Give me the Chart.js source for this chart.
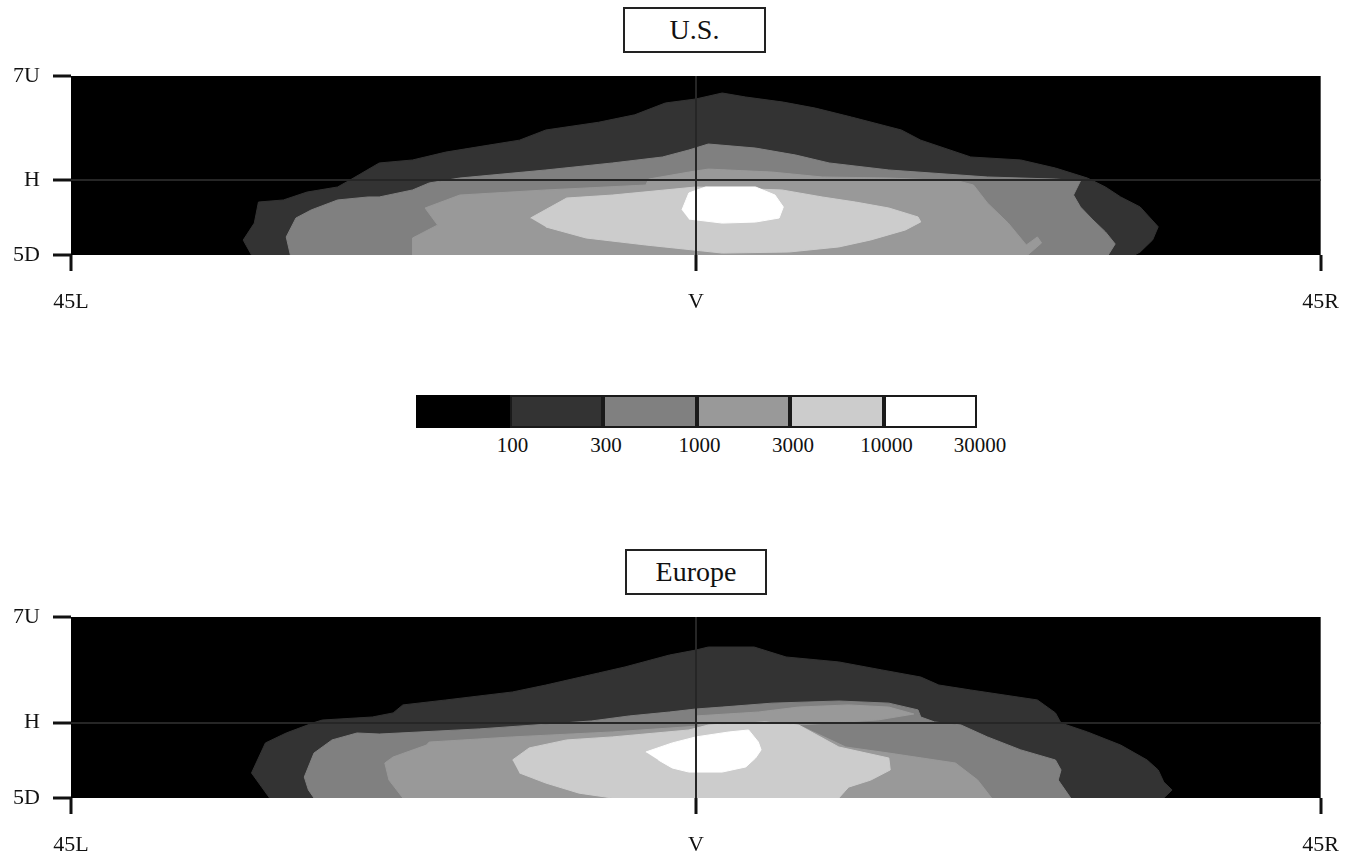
<!DOCTYPE html>
<html>
<head>
<meta charset="utf-8">
<title>U.S. / Europe</title>
<script src="https://cdn.jsdelivr.net/npm/chart.js"></script>
<style>
  body { margin: 0; width: 1357px; height: 857px; background: #fff; overflow: hidden; position: relative;
         font-family: "Liberation Serif", "Times New Roman", serif; color: #111; }
  canvas { position: absolute; left: 0; }
  .title { position: absolute; border: 2px solid #222; box-sizing: border-box; text-align: center;
           font-size: 28px; background: #fff; }
  #legend { position: absolute; left: 416px; top: 395px; display: flex; }
  .swatch { width: 93.5px; height: 33px; box-sizing: border-box; border: 2px solid #1a1a1a; }
  .lab { position: absolute; top: 433px; font-size: 21px; transform: translateX(-50%); }
</style>
</head>
<body>
<div class="title" style="left:623px;top:7px;width:143px;height:46px;line-height:42px">U.S.</div>
<canvas id="usChart" width="1357" height="330" style="top:0"></canvas>
<div id="legend"></div>
<div class="title" style="left:625px;top:549px;width:142px;height:46px;line-height:42px">Europe</div>
<canvas id="euChart" width="1357" height="316" style="top:541px"></canvas>

<script>
// niveles de contorno (grados: x = L/R, y = D/U)
var usLevel1 = [[-32.0,-5],[-32.6,-4.0],[-31.8,-2.86],[-31.5,-1.45],[-29.7,-1.31],[-28.0,-0.78],[-25.8,-0.44],[-24.9,0.03],[-22.8,1.17],[-20.4,1.37],[-18.0,1.9],[-14.9,2.37],[-12.7,2.7],[-10.8,3.38],[-7.0,3.9],[-4.4,4.4],[-2.2,5.19],[0,5.46],[1.9,5.86],[3.6,5.59],[6.3,5.25],[8.6,4.85],[11.2,4.25],[14.8,3.38],[16.2,2.7],[19.8,1.57],[23.4,1.37],[25.9,0.83],[28.2,0.16],[29.5,-0.44],[30.6,-1.11],[32.0,-1.78],[33.3,-3.11],[32.9,-3.99],[32.0,-4.8],[31.6,-5]];
var usLevel2 = [[-29.2,-5],[-29.5,-3.79],[-28.8,-2.52],[-27.7,-1.98],[-25.8,-1.31],[-23.6,-1.11],[-22.8,-1.11],[-20.4,-0.64],[-19.2,-0.17],[-17.0,0.16],[-10.8,0.7],[-6.0,1.17],[-2.4,1.57],[-0.5,2.04],[0.9,2.44],[4.3,2.17],[7.2,1.7],[9.6,1.17],[13.9,0.7],[21.0,0.23],[25.9,0.09],[27.7,-0.04],[27.2,-0.98],[27.7,-1.78],[28.6,-2.65],[29.5,-3.45],[30.2,-4.26],[29.7,-5]];
var usLevel3 = [[-20.4,-5],[-20.4,-3.86],[-18.6,-2.99],[-19.5,-1.85],[-17.0,-0.98],[-10.8,-0.64],[-3.6,-0.31],[-3.4,0.09],[-0.5,0.56],[0.9,0.76],[5.5,0.56],[9.1,0.23],[13.9,0.16],[18.9,-0.04],[20.0,-0.31],[21.0,-1.51],[22.5,-2.86],[23.8,-4.33],[24.6,-3.79],[24.9,-4.19],[23.9,-5]];
var usLevel4 = [[-11.9,-2.52],[-9.3,-1.18],[-6.0,-0.98],[0,-0.44],[6.2,-0.64],[9.1,-1.11],[11.5,-1.45],[13.9,-1.85],[16.0,-2.45],[16.2,-2.78],[15.1,-3.32],[12.6,-3.99],[10.3,-4.46],[6.7,-4.8],[1.9,-4.87],[-3.6,-4.33],[-7.9,-3.86],[-10.8,-3.12]];
var usLevel5 = [[-1.0,-1.98],[-0.5,-0.84],[0.7,-0.44],[4.3,-0.44],[5.7,-0.98],[6.3,-1.78],[6.0,-2.52],[4.3,-2.79],[1.9,-2.86],[-0.5,-2.59]];

var euLevel1 = [[-30.7,-5],[-32.0,-3.34],[-31.0,-1.35],[-29.5,-0.69],[-27.5,0],[-26.9,0.17],[-23.3,0.37],[-21.8,0.64],[-21.1,1.17],[-18.0,1.5],[-13.2,2.03],[-10.8,2.49],[-7.0,3.29],[-5.1,3.69],[-1.9,4.48],[0,4.81],[0.9,5.01],[4.2,5.01],[6.5,4.35],[10.3,4.02],[13.4,3.49],[16.2,3.02],[17.5,2.49],[19.8,2.16],[24.6,1.5],[25.9,0.64],[26.3,-0.03],[28.2,-0.62],[30.6,-1.49],[32.5,-2.48],[33.3,-3.14],[33.7,-3.94],[34.3,-4.47],[33.7,-5]];
var euLevel2 = [[-27.5,-5],[-27.9,-4.47],[-28.2,-3.61],[-27.5,-2.02],[-26.2,-1.15],[-24.4,-0.69],[-22.8,-0.76],[-15.6,-0.42],[-7.5,0.11],[-4.8,0.44],[-1.9,0.7],[0,0.9],[1.9,1.03],[5.5,1.29],[10.3,1.43],[13.9,1.29],[16.0,0.84],[16.2,0.37],[17.2,0.04],[19.1,-0.16],[21.0,-0.95],[23.4,-1.81],[25.9,-2.48],[26.3,-3.14],[26.1,-3.81],[27.0,-5]];
var euLevel3 = [[-21.1,-5],[-22.1,-3.81],[-22.4,-2.68],[-21.8,-2.28],[-19.4,-1.49],[-19.2,-1.29],[-13.2,-0.95],[-6.0,-0.62],[0.2,-0.23],[0,0.44],[4.5,0.7],[7.4,1.03],[11.0,1.17],[13.9,1.03],[15.7,0.57],[13.1,0.17],[7.4,-0.16],[10.8,-1.62],[13.9,-2.02],[18.7,-2.68],[20.3,-3.81],[21.3,-5]];
var euLevel4 = [[-13.2,-2.48],[-12.0,-1.68],[-9.3,-1.15],[-6.0,-0.95],[-0.5,-0.49],[0.9,-0.16],[5.0,0.04],[7.4,-0.16],[10.3,-1.62],[13.9,-2.35],[14.0,-3.14],[12.6,-3.81],[11.0,-4.28],[10.3,-5],[-6.0,-5],[-8.4,-4.68],[-10.8,-4.01],[-12.7,-3.34]];
var euLevel5 = [[-3.6,-1.95],[-1.7,-1.35],[0,-0.95],[2.4,-0.62],[3.8,-0.49],[4.5,-1.29],[4.7,-1.81],[4.3,-2.35],[3.6,-2.94],[1.9,-3.28],[-0.5,-3.28],[-1.7,-3.01],[-2.7,-2.48]];

// escala de colores y etiquetas
var levelColors = ['#000000', '#333333', '#808080', '#999999', '#cccccc', '#ffffff'];
var legendLabels = ['100', '300', '1000', '3000', '10000', '30000'];

// ejes
var xTickValues = [-45, 0, 45];
var xTickLabels = ['45L', 'V', '45R'];
var yTickValues = [-5, 0, 7];
var yTickLabels = ['5D', 'H', '7U'];

// fondo negro del area (nivel < 100)
var plotBackground = {
  id: 'plotBackground',
  beforeDatasetsDraw: function (chart) {
    var a = chart.chartArea, c = chart.ctx;
    c.save();
    c.fillStyle = levelColors[0];
    c.fillRect(a.left, a.top, a.right - a.left, a.bottom - a.top);
    c.restore();
  }
};

var tickFont = { family: 'Liberation Serif', size: 22 };

function lineColor(c) {
  return c.tick && c.tick.value === 0 ? '#262626' : 'rgba(0,0,0,0)';
}

function makePanel(canvasId, levels, xAxisHeight) {
  var datasets = levels.map(function (pts, i) {
    return {
      label: legendLabels[i],
      data: pts.map(function (p) { return { x: p[0], y: p[1] }; }),
      showLine: true,
      fill: 'shape',
      backgroundColor: levelColors[i + 1],
      borderColor: levelColors[i + 1],
      borderWidth: 1,
      pointRadius: 0,
      pointHoverRadius: 0,
      order: 10 - i
    };
  });

  return new Chart(document.getElementById(canvasId), {
    type: 'scatter',
    data: { datasets: datasets },
    options: {
      responsive: false,
      animation: false,
      events: [],
      layout: { padding: { top: 76, right: 32, left: 0, bottom: 0 } },
      plugins: { legend: { display: false }, tooltip: { enabled: false } },
      scales: {
        x: {
          type: 'linear', min: -45, max: 45,
          afterBuildTicks: function (s) { s.ticks = xTickValues.map(function (v) { return { value: v }; }); },
          afterFit: function (s) { s.height = xAxisHeight; },
          ticks: {
            callback: function (v, i) { return xTickLabels[i]; },
            autoSkip: false, maxRotation: 0, padding: 18, color: '#111', font: tickFont
          },
          grid: { z: 1, color: lineColor, lineWidth: 2, tickColor: '#111', tickWidth: 3, tickLength: 16 },
          border: { display: false }
        },
        y: {
          type: 'linear', min: -5, max: 7,
          afterBuildTicks: function (s) { s.ticks = yTickValues.map(function (v) { return { value: v }; }); },
          afterFit: function (s) { s.width = 71; },
          ticks: {
            callback: function (v, i) { return yTickLabels[i]; },
            autoSkip: false, padding: 13, color: '#111', font: tickFont
          },
          grid: { z: 1, color: lineColor, lineWidth: 2, tickColor: '#111', tickWidth: 3, tickLength: 18 },
          border: { display: false }
        }
      }
    },
    plugins: [plotBackground]
  });
}

makePanel('usChart', [usLevel1, usLevel2, usLevel3, usLevel4, usLevel5], 75);
makePanel('euChart', [euLevel1, euLevel2, euLevel3, euLevel4, euLevel5], 59);

// barra de colores
var legend = document.getElementById('legend');
levelColors.forEach(function (col, i) {
  var d = document.createElement('div');
  d.className = 'swatch';
  d.style.background = col;
  if (i === 0) d.style.borderColor = col;
  legend.appendChild(d);
});
legendLabels.forEach(function (txt, i) {
  var s = document.createElement('div');
  s.className = 'lab';
  s.textContent = txt;
  s.style.left = (416 + 93.5 * (i + 1) + 3) + 'px';
  document.body.appendChild(s);
});
</script>
</body>
</html>
